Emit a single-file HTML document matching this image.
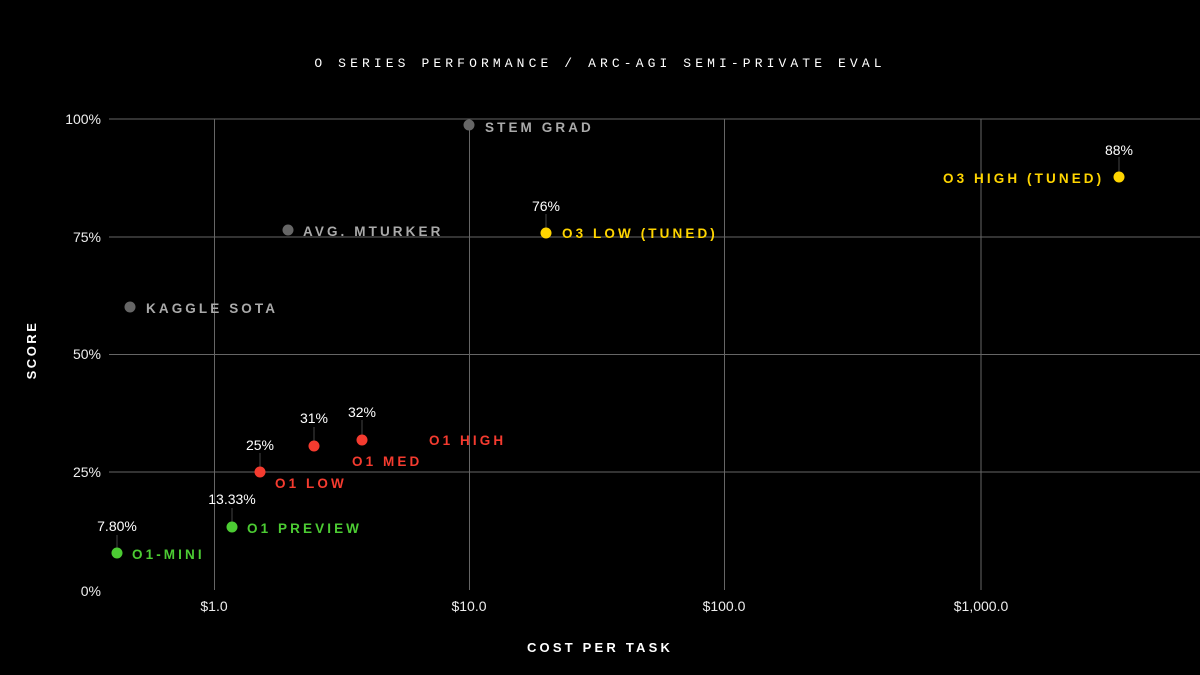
<!DOCTYPE html>
<html><head><style>
html,body{margin:0;padding:0;background:#000;}
svg{display:block;font-family:"Liberation Sans",sans-serif;}
.tk{fill:#eee;font-size:14px;}
.lb{font-size:13.5px;font-weight:bold;letter-spacing:3.1px;}
.pc{fill:#fff;font-size:14px;text-anchor:middle;}
</style></head><body>
<svg width="1200" height="675" viewBox="0 0 1200 675">
<rect width="1200" height="675" fill="#000"/>
<text x="600" y="67" text-anchor="middle" fill="#fff" font-family="Liberation Mono, monospace" font-size="13" letter-spacing="4.1">O SERIES PERFORMANCE / ARC-AGI SEMI-PRIVATE EVAL</text>
<g stroke="#666" stroke-width="1">
<line x1="109" y1="119" x2="1200" y2="119"/>
<line x1="109" y1="237" x2="1200" y2="237"/>
<line x1="109" y1="354.5" x2="1200" y2="354.5"/>
<line x1="109" y1="472" x2="1200" y2="472"/>
<line x1="214.5" y1="119" x2="214.5" y2="590"/>
<line x1="469.5" y1="119" x2="469.5" y2="590"/>
<line x1="724.5" y1="119" x2="724.5" y2="590"/>
<line x1="981" y1="119" x2="981" y2="590"/>
</g>
<g class="tk" text-anchor="end">
<text x="101" y="124">100%</text><text x="101" y="242">75%</text><text x="101" y="359">50%</text><text x="101" y="477">25%</text><text x="101" y="596">0%</text>
</g>
<g class="tk" text-anchor="middle">
<text x="214" y="611">$1.0</text><text x="469" y="611">$10.0</text><text x="724" y="611">$100.0</text><text x="981" y="611">$1,000.0</text>
</g>
<text x="600" y="652" text-anchor="middle" fill="#fff" font-size="13" font-weight="bold" letter-spacing="3.2">COST PER TASK</text>
<text transform="translate(36,350) rotate(-90)" text-anchor="middle" fill="#fff" font-size="13" font-weight="bold" letter-spacing="2.5">SCORE</text>
<g stroke="#444" stroke-width="1">
<line x1="117" y1="535" x2="117" y2="553"/><line x1="232" y1="508" x2="232" y2="527"/>
<line x1="260" y1="453" x2="260" y2="472"/><line x1="314" y1="427" x2="314" y2="446"/>
<line x1="362" y1="420" x2="362" y2="440"/><line x1="1119" y1="157" x2="1119" y2="177"/>
<line x1="546" y1="214" x2="546" y2="233"/>
</g>
<g fill="#666">
<circle cx="130" cy="307" r="5.5"/><circle cx="288" cy="230" r="5.5"/><circle cx="469" cy="125" r="5.5"/>
</g>
<g class="lb" fill="#aaa">
<text x="146" y="313">KAGGLE SOTA</text><text x="303" y="236">AVG. MTURKER</text><text x="485" y="132">STEM GRAD</text>
</g>
<g fill="#4ccc33"><circle cx="117" cy="553" r="5.5"/><circle cx="232" cy="527" r="5.5"/></g>
<g class="lb" fill="#4ccc33"><text x="132" y="559">O1-MINI</text><text x="247" y="533">O1 PREVIEW</text></g>
<g fill="#f53b2f"><circle cx="260" cy="472" r="5.5"/><circle cx="314" cy="446" r="5.5"/><circle cx="362" cy="440" r="5.5"/></g>
<g class="lb" fill="#f53b2f"><text x="275" y="488">O1 LOW</text><text x="352" y="466">O1 MED</text><text x="429" y="445">O1 HIGH</text></g>
<g fill="#ffd500"><circle cx="546" cy="233" r="5.5"/><circle cx="1119" cy="177" r="5.5"/></g>
<g class="lb" fill="#ffd500"><text x="562" y="238">O3 LOW (TUNED)</text><text x="943" y="183">O3 HIGH (TUNED)</text></g>
<g class="pc">
<text x="117" y="531">7.80%</text><text x="232" y="504">13.33%</text><text x="260" y="450">25%</text>
<text x="314" y="423">31%</text><text x="362" y="417">32%</text><text x="546" y="211">76%</text><text x="1119" y="155">88%</text>
</g>
</svg>
</body></html>
